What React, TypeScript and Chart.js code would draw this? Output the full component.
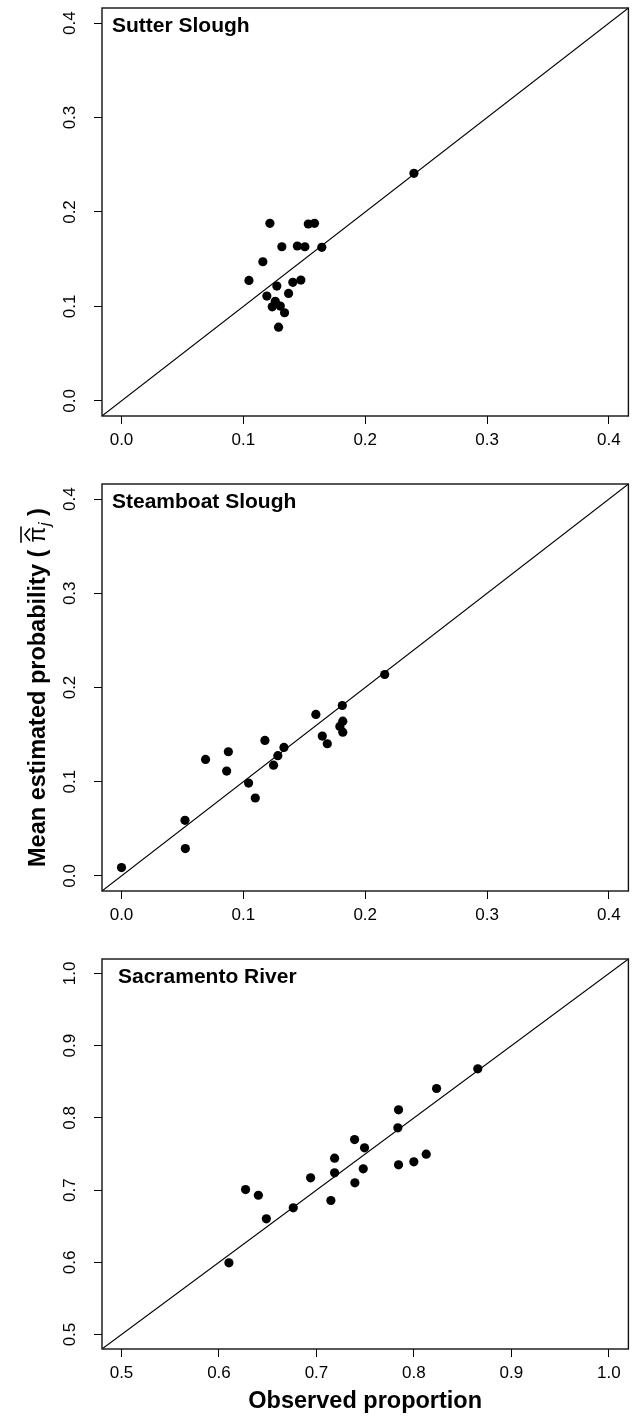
import React, { useEffect, useRef } from "react";
import { Chart, registerables } from "chart.js";

Chart.register(...registerables);

// ---------- data ----------
const sutterObserved = [0.240, 0.1218, 0.1533, 0.1584, 0.1316, 0.1443, 0.1505, 0.1644, 0.1160, 0.1046, 0.1275, 0.1406, 0.1472, 0.1371, 0.1193, 0.1262, 0.1237, 0.1303, 0.1338, 0.1289];
const sutterEstimated = [0.241, 0.188, 0.1873, 0.188, 0.1632, 0.164, 0.1632, 0.1626, 0.1473, 0.1276, 0.1216, 0.1255, 0.1279, 0.1138, 0.111, 0.1054, 0.0996, 0.1004, 0.0933, 0.0781];

const steamboatObserved = [0.0, 0.0521, 0.0524, 0.069, 0.0877, 0.0863, 0.1043, 0.1098, 0.1177, 0.1248, 0.1283, 0.1333, 0.1595, 0.1648, 0.1689, 0.1812, 0.1816, 0.1792, 0.1816, 0.216];
const steamboatEstimated = [0.0089, 0.059, 0.029, 0.1237, 0.1318, 0.1113, 0.0986, 0.0827, 0.1438, 0.1176, 0.1276, 0.1364, 0.1714, 0.1484, 0.1403, 0.1809, 0.1643, 0.1587, 0.1526, 0.2138];

const sacramentoObserved = [0.6102, 0.6273, 0.6404, 0.6486, 0.6762, 0.694, 0.7148, 0.7186, 0.7186, 0.7394, 0.7391, 0.748, 0.7493, 0.7835, 0.7842, 0.7842, 0.7999, 0.8126, 0.8232, 0.8655];
const sacramentoEstimated = [0.5993, 0.7008, 0.6929, 0.6602, 0.6755, 0.717, 0.6856, 0.724, 0.7442, 0.7101, 0.77, 0.7295, 0.7586, 0.7863, 0.8112, 0.735, 0.7392, 0.7497, 0.8407, 0.868];

const smallTicks = [0.0, 0.1, 0.2, 0.3, 0.4];
const largeTicks = [0.5, 0.6, 0.7, 0.8, 0.9, 1.0];
const smallRange = [-0.016, 0.416];
const largeRange = [0.48, 1.02];

const panelTitles = ["Sutter Slough", "Steamboat Slough", "Sacramento River"];
const xAxisTitle = "Observed proportion";
const yTitleStart = "Mean estimated probability (";
const yTitleSymbol = "\u03C0";
const yTitleSub = "j";
const yTitleEnd = ")";

const FAMILY = "'Liberation Sans', Arial, Helvetica, sans-serif";

type PanelProps = {
  pageTop: number;
  height: number;
  obs: number[];
  est: number[];
  ticks: number[];
  range: number[];
  title: string;
  titleX: number;
  areaTop: number;
  areaBottom: number;
  showXTitle: boolean;
  showYTitle: boolean;
};

function Panel(p: PanelProps) {
  const ref = useRef<HTMLCanvasElement | null>(null);
  useEffect(() => {
    const canvas = ref.current;
    if (!canvas) return;
    const [lo, hi] = p.range;
    const tickOpts = (s: any) => {
      s.ticks = p.ticks.map((v) => ({ value: v }));
    };
    const gridOpts = {
      display: true,
      drawOnChartArea: false,
      drawTicks: true,
      tickLength: 8,
      color: "#000",
      lineWidth: 1,
    };
    const rStyle = {
      id: "rStyle",
      afterDraw(chart: any) {
        const { ctx, chartArea } = chart;
        const { left, top, right, bottom } = chartArea;
        const y = chart.scales.y;
        ctx.save();
        // box
        ctx.strokeStyle = "#111";
        ctx.lineWidth = 1.4;
        ctx.strokeRect(left, top, right - left, bottom - top);
        // rotated y tick labels
        ctx.fillStyle = "#000";
        ctx.font = `17px ${FAMILY}`;
        ctx.textAlign = "center";
        ctx.textBaseline = "alphabetic";
        y.ticks.forEach((t: any) => {
          const py = y.getPixelForValue(t.value);
          ctx.save();
          ctx.translate(75, py);
          ctx.rotate(-Math.PI / 2);
          ctx.fillText(Number(t.value).toFixed(1), 0, 0);
          ctx.restore();
        });
        // panel title
        ctx.font = `bold 21px ${FAMILY}`;
        ctx.textAlign = "left";
        ctx.fillText(p.title, p.titleX, top + 23.5);
        // y axis title
        if (p.showYTitle) {
          const cy = (top + bottom) / 2;
          const bold = `bold 23.5px ${FAMILY}`;
          const sym = `23.5px ${FAMILY}`;
          const sub = `italic 16px ${FAMILY}`;
          ctx.font = bold;
          const w1 = ctx.measureText(yTitleStart).width;
          const w4 = ctx.measureText(yTitleEnd).width;
          const gap = 7;
          ctx.font = sym;
          const w2 = ctx.measureText(yTitleSymbol).width;
          ctx.font = sub;
          const w3 = ctx.measureText(yTitleSub).width;
          const total = w1 + gap + w2 + w3 + gap + w4;
          ctx.translate(45, cy);
          ctx.rotate(-Math.PI / 2);
          let x = -total / 2;
          ctx.textAlign = "left";
          ctx.font = bold;
          ctx.fillText(yTitleStart, x, 0);
          x += w1 + gap;
          ctx.font = sym;
          ctx.fillText(yTitleSymbol, x, 0);
          ctx.strokeStyle = "#000";
          ctx.lineWidth = 1.6;
          ctx.beginPath();
          ctx.moveTo(x + 2, -15);
          ctx.lineTo(x + w2 / 2, -20);
          ctx.lineTo(x + w2 - 2, -15);
          ctx.stroke();
          ctx.beginPath();
          ctx.moveTo(x, -24);
          ctx.lineTo(x + w2, -24);
          ctx.stroke();
          x += w2;
          ctx.font = sub;
          ctx.fillText(yTitleSub, x + 0.5, 5);
          x += w3 + gap;
          ctx.font = bold;
          ctx.fillText(yTitleEnd, x, 0);
        }
        ctx.restore();
      },
    };
    const chart = new Chart(canvas, {
      type: "scatter",
      data: {
        datasets: [
          {
            data: p.obs.map((v, i) => ({ x: v, y: p.est[i] })),
            backgroundColor: "#000",
            borderColor: "#000",
            borderWidth: 0,
            pointRadius: 4.6,
            pointHoverRadius: 4.6,
          },
          {
            data: [
              { x: lo, y: lo },
              { x: hi, y: hi },
            ],
            showLine: true,
            borderColor: "#000",
            borderWidth: 1.1,
            pointRadius: 0,
            pointHoverRadius: 0,
          },
        ],
      },
      options: {
        responsive: false,
        animation: false,
        devicePixelRatio: 1,
        events: [],
        layout: { padding: { top: p.areaTop, right: 4, left: 0, bottom: 0 } },
        plugins: {
          legend: { display: false },
          tooltip: { enabled: false },
          title: { display: false },
        },
        scales: {
          x: {
            type: "linear",
            min: lo,
            max: hi,
            afterBuildTicks: tickOpts,
            afterFit: (s: any) => {
              s.height = p.height - p.areaBottom;
            },
            grid: gridOpts,
            border: { display: false },
            ticks: {
              padding: 6,
              color: "#000",
              autoSkip: false,
              maxRotation: 0,
              minRotation: 0,
              font: { family: FAMILY, size: 17 },
              callback: (v: any) => Number(v).toFixed(1),
            },
            title: {
              display: p.showXTitle,
              text: xAxisTitle,
              color: "#000",
              font: { family: FAMILY, size: 23.5, weight: "bold" },
              padding: { top: 0, bottom: 0 },
            },
          },
          y: {
            type: "linear",
            min: lo,
            max: hi,
            afterBuildTicks: tickOpts,
            afterFit: (s: any) => {
              s.width = 102;
            },
            grid: gridOpts,
            border: { display: false },
            ticks: { display: false },
          },
        },
      },
      plugins: [rStyle],
    } as any);
    return () => chart.destroy();
  }, []);
  return (
    <canvas
      ref={ref}
      width={633}
      height={p.height}
      style={{ position: "absolute", left: 0, top: p.pageTop, width: 633, height: p.height, display: "block" }}
    />
  );
}

export default function App() {
  return (
    <div style={{ position: "absolute", left: 0, top: 0, width: 633, height: 1416, background: "#fff", overflow: "hidden" }}>
      <Panel pageTop={0} height={475} obs={sutterObserved} est={sutterEstimated} ticks={smallTicks} range={smallRange}
        title={panelTitles[0]} titleX={112} areaTop={8} areaBottom={416} showXTitle={false} showYTitle={false} />
      <Panel pageTop={475} height={475} obs={steamboatObserved} est={steamboatEstimated} ticks={smallTicks} range={smallRange}
        title={panelTitles[1]} titleX={112} areaTop={9} areaBottom={416} showXTitle={false} showYTitle={true} />
      <Panel pageTop={950} height={466} obs={sacramentoObserved} est={sacramentoEstimated} ticks={largeTicks} range={largeRange}
        title={panelTitles[2]} titleX={118} areaTop={9} areaBottom={399} showXTitle={true} showYTitle={false} />
    </div>
  );
}
